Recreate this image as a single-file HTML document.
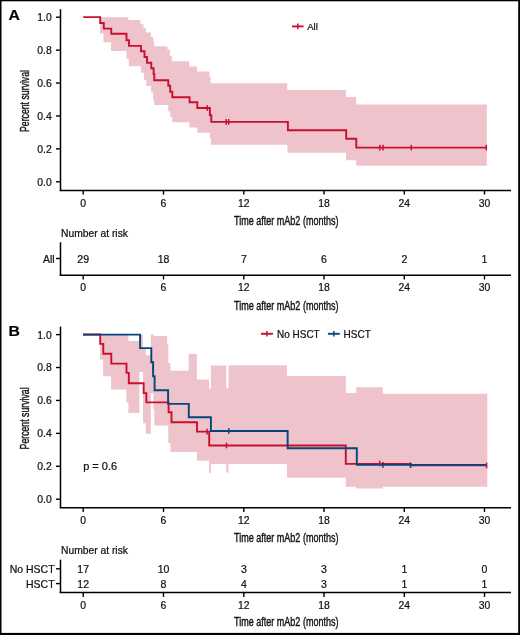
<!DOCTYPE html>
<html><head><meta charset="utf-8"><style>
html,body{margin:0;padding:0;background:#fff;}
body{width:520px;height:635px;overflow:hidden;}
svg{display:block;will-change:transform;}
text{stroke:#111;stroke-width:0.22px;}
text.t{stroke-width:0.4px;}
</style></head><body>
<svg width="520" height="635" viewBox="0 0 520 635" font-family='"Liberation Sans", sans-serif' fill="#111">
<rect x="0" y="0" width="520" height="635" fill="#fff"/>
<!-- Panel A -->
<text x="8.5" y="20.2" font-size="15" font-weight="bold" fill="#000" textLength="11.4" lengthAdjust="spacingAndGlyphs">A</text>
<path d="M100,17.2 L128.4,17.2 L128.4,20.1 L140.4,20.1 L140.4,24.2 L143.5,24.2 L143.5,28.3 L146,28.3 L146,32.6 L150.9,32.6 L150.9,37.1 L153.2,37.1 L153.2,41.6 L154,41.6 L154,46.2 L167.5,46.2 L167.5,49.5 L169.8,49.5 L169.8,56 L171.8,56 L171.8,61.3 L189,61.3 L189,66.4 L197,66.4 L197,71.6 L209.5,71.6 L209.5,77.1 L210.6,77.1 L210.6,83.3 L287.2,83.3 L287.2,89.9 L345.9,89.9 L345.9,97.1 L356.2,97.1 L356.2,104.6 L486.8,104.6 L486.8,165.8 L356.3,165.8 L356.3,160.2 L346,160.2 L346,152.8 L287.4,152.8 L287.4,144.75 L211,144.75 L211,138.5 L210,138.5 L210,132.7 L197.4,132.7 L197.4,127.5 L189.4,127.5 L189.4,122.3 L172.3,122.3 L172.3,117 L170.2,117 L170.2,111.25 L168.2,111.25 L168.2,105.1 L154.2,105.1 L154.2,99.7 L153.2,99.7 L153.2,92.6 L151.1,92.6 L151.1,86.1 L146.3,86.1 L146.3,79.8 L144,79.8 L144,72.7 L140.9,72.7 L140.9,66.3 L128.8,66.3 L128.8,59.1 L126.5,59.1 L126.5,50.9 L111,50.9 L111,42.2 L103.5,42.2 L103.5,33.6 L100,33.6 Z" fill="#eec3cb"/>
<path d="M83.2,17.1 H100.2 V23 H103.8 V28.6 H111.25 V33.7 H126.5 V40.2 H129 V45.9 H141 V51.2 H144.5 V57 H147 V62.7 H151.3 V68.2 H153.6 V74 H154.3 V80.2 H168.3 V85.7 H170.2 V91.7 H172.3 V97.3 H189.6 V102.2 H197.3 V108 H209.9 V115.2 H211.3 V121.9 H287.9 V130.2 H346.2 V138.8 H356.3 V147.6 H486.5" fill="none" stroke="#c8102e" stroke-width="1.9"/>
<line x1="207.3" y1="105.2" x2="207.3" y2="110.8" stroke="#c8102e" stroke-width="1.5"/><line x1="226.25" y1="119.10000000000001" x2="226.25" y2="124.7" stroke="#c8102e" stroke-width="1.5"/><line x1="228.65" y1="119.10000000000001" x2="228.65" y2="124.7" stroke="#c8102e" stroke-width="1.5"/><line x1="379.9" y1="144.79999999999998" x2="379.9" y2="150.4" stroke="#c8102e" stroke-width="1.5"/><line x1="383" y1="144.79999999999998" x2="383" y2="150.4" stroke="#c8102e" stroke-width="1.5"/><line x1="411.3" y1="144.79999999999998" x2="411.3" y2="150.4" stroke="#c8102e" stroke-width="1.5"/><line x1="486.3" y1="144.79999999999998" x2="486.3" y2="150.4" stroke="#c8102e" stroke-width="1.5"/>
<line x1="60.5" y1="9.2" x2="60.5" y2="190.6" stroke="#000" stroke-width="1.5"/>
<line x1="59.75" y1="190.4" x2="511" y2="190.4" stroke="#000" stroke-width="1.5"/>
<line x1="56" y1="17.2" x2="60" y2="17.2" stroke="#000" stroke-width="1.4"/>
<text x="51.8" y="21.099999999999998" text-anchor="end" font-size="10.4">1.0</text>
<line x1="56" y1="50.120000000000005" x2="60" y2="50.120000000000005" stroke="#000" stroke-width="1.4"/>
<text x="51.8" y="54.02" text-anchor="end" font-size="10.4">0.8</text>
<line x1="56" y1="83.04" x2="60" y2="83.04" stroke="#000" stroke-width="1.4"/>
<text x="51.8" y="86.94000000000001" text-anchor="end" font-size="10.4">0.6</text>
<line x1="56" y1="115.96000000000001" x2="60" y2="115.96000000000001" stroke="#000" stroke-width="1.4"/>
<text x="51.8" y="119.86000000000001" text-anchor="end" font-size="10.4">0.4</text>
<line x1="56" y1="148.88" x2="60" y2="148.88" stroke="#000" stroke-width="1.4"/>
<text x="51.8" y="152.78" text-anchor="end" font-size="10.4">0.2</text>
<line x1="56" y1="181.8" x2="60" y2="181.8" stroke="#000" stroke-width="1.4"/>
<text x="51.8" y="185.70000000000002" text-anchor="end" font-size="10.4">0.0</text>
<line x1="83.2" y1="190.7" x2="83.2" y2="194.6" stroke="#000" stroke-width="1.4"/>
<text x="83.2" y="207.0" text-anchor="middle" font-size="10.4">0</text>
<line x1="163.5" y1="190.7" x2="163.5" y2="194.6" stroke="#000" stroke-width="1.4"/>
<text x="163.5" y="207.0" text-anchor="middle" font-size="10.4">6</text>
<line x1="243.8" y1="190.7" x2="243.8" y2="194.6" stroke="#000" stroke-width="1.4"/>
<text x="243.8" y="207.0" text-anchor="middle" font-size="10.4">12</text>
<line x1="324.0" y1="190.7" x2="324.0" y2="194.6" stroke="#000" stroke-width="1.4"/>
<text x="324.0" y="207.0" text-anchor="middle" font-size="10.4">18</text>
<line x1="404.3" y1="190.7" x2="404.3" y2="194.6" stroke="#000" stroke-width="1.4"/>
<text x="404.3" y="207.0" text-anchor="middle" font-size="10.4">24</text>
<line x1="484.5" y1="190.7" x2="484.5" y2="194.6" stroke="#000" stroke-width="1.4"/>
<text x="484.5" y="207.0" text-anchor="middle" font-size="10.4">30</text>
<text x="234" y="224.9" font-size="12.8" textLength="104.5" lengthAdjust="spacingAndGlyphs" class="t">Time after mAb2 (months)</text>
<text transform="translate(28.7,132.0) rotate(-90)" x="0" y="0" font-size="12.8" textLength="62" class="t" lengthAdjust="spacingAndGlyphs">Percent survival</text>
<line x1="292" y1="26.4" x2="303.6" y2="26.4" stroke="#c8102e" stroke-width="1.9"/>
<line x1="297.8" y1="23.6" x2="297.8" y2="29.2" stroke="#c8102e" stroke-width="1.5"/>
<text x="307.2" y="29.9" font-size="9.6">All</text>
<text x="61" y="236.9" font-size="10.3">Number at risk</text>
<line x1="60.5" y1="242.3" x2="60.5" y2="275.6" stroke="#000" stroke-width="1.5"/>
<line x1="59.75" y1="275.2" x2="511" y2="275.2" stroke="#000" stroke-width="1.5"/>
<line x1="56" y1="258.5" x2="60" y2="258.5" stroke="#000" stroke-width="1.4"/>
<text x="54.6" y="263.0" text-anchor="end" font-size="10.5">All</text>
<text x="83.2" y="263.0" text-anchor="middle" font-size="10.5">29</text>
<text x="163.5" y="263.0" text-anchor="middle" font-size="10.5">18</text>
<text x="243.8" y="263.0" text-anchor="middle" font-size="10.5">7</text>
<text x="324.0" y="263.0" text-anchor="middle" font-size="10.5">6</text>
<text x="404.3" y="263.0" text-anchor="middle" font-size="10.5">2</text>
<text x="484.5" y="263.0" text-anchor="middle" font-size="10.5">1</text>
<line x1="83.2" y1="275.6" x2="83.2" y2="279.5" stroke="#000" stroke-width="1.4"/>
<text x="83.2" y="291.4" text-anchor="middle" font-size="10.4">0</text>
<line x1="163.5" y1="275.6" x2="163.5" y2="279.5" stroke="#000" stroke-width="1.4"/>
<text x="163.5" y="291.4" text-anchor="middle" font-size="10.4">6</text>
<line x1="243.8" y1="275.6" x2="243.8" y2="279.5" stroke="#000" stroke-width="1.4"/>
<text x="243.8" y="291.4" text-anchor="middle" font-size="10.4">12</text>
<line x1="324.0" y1="275.6" x2="324.0" y2="279.5" stroke="#000" stroke-width="1.4"/>
<text x="324.0" y="291.4" text-anchor="middle" font-size="10.4">18</text>
<line x1="404.3" y1="275.6" x2="404.3" y2="279.5" stroke="#000" stroke-width="1.4"/>
<text x="404.3" y="291.4" text-anchor="middle" font-size="10.4">24</text>
<line x1="484.5" y1="275.6" x2="484.5" y2="279.5" stroke="#000" stroke-width="1.4"/>
<text x="484.5" y="291.4" text-anchor="middle" font-size="10.4">30</text>
<text x="234" y="309.9" font-size="12.8" textLength="104.5" lengthAdjust="spacingAndGlyphs" class="t">Time after mAb2 (months)</text>
<!-- Panel B -->
<text x="8.6" y="335.9" font-size="15" font-weight="bold" fill="#000" textLength="11.4" lengthAdjust="spacingAndGlyphs">B</text>
<g fill="#eec3cb">
<path d="M100,334.4H103.1V359.6H100ZM103.1,334.4H111.1V376.2H103.1ZM111.1,334.4H126.3V389.6H111.1ZM126.3,334.4H128.4V402.6H126.3ZM128.4,341.1H139.4V413.0H128.4ZM139.4,335.0H143.0V371.9H139.4ZM143.0,348.0H145.8V423.3H143.0ZM145.8,355.3H150.8V433.7H145.8ZM150.8,334.2H153.3V393.2H150.8ZM153.3,335.6H154.3V409.4H153.3ZM154.3,335.9H167.2V425.6H154.3ZM167.2,344.2H168.3V425.6H167.2ZM168.3,363.1H170.5V442.9H168.3ZM170.5,370.8H188.7V451.9H170.5ZM188.7,354.0H196.9V451.9H188.7ZM196.9,379.5H209.1V460.7H196.9ZM209.1,388.75H210.9V472.9H209.1ZM210.9,365.4H226.25V464.0H210.9ZM226.25,388.3H228.5V472.5H226.25ZM228.5,365.3H286.9V463.9H228.5ZM286.9,375.9H345.8V477.7H286.9ZM345.8,393.0H356.2V486.7H345.8ZM356.2,387.2H382.8V488.6H356.2ZM382.8,393.7H487.3V486.8H382.8Z"/>
</g>
<path d="M83,334.45 H100.2 V343.9 H103.3 V353.7 H111.3 V363.6 H126.5 V372.9 H128.8 V383.2 H143.65 V393.1 H146.35 V402.4 H168.6 V412.2 H171.5 V422.3 H197 V431.6 H209.2 V445.5 H345.8 V463.9 H410.5 V465.3 H486.6" fill="none" stroke="#c8102e" stroke-width="1.9"/>
<path d="M83,334.6 H140.1 V348.1 H151.3 V362.2 H153.1 V376.2 H154.6 V390.2 H168.1 V403.9 H188.8 V417.2 H210.9 V431 H287.65 V448.2 H356.8 V464.9 H486.7" fill="none" stroke="#05457f" stroke-width="1.9"/>
<line x1="207.1" y1="428.8" x2="207.1" y2="434.40000000000003" stroke="#c8102e" stroke-width="1.5"/><line x1="226.5" y1="442.7" x2="226.5" y2="448.3" stroke="#c8102e" stroke-width="1.5"/><line x1="379.7" y1="460.7" x2="379.7" y2="466.3" stroke="#c8102e" stroke-width="1.5"/><line x1="486.6" y1="462.7" x2="486.6" y2="468.3" stroke="#c8102e" stroke-width="1.5"/>
<line x1="228.8" y1="428.2" x2="228.8" y2="433.8" stroke="#05457f" stroke-width="1.5"/><line x1="382.9" y1="462.09999999999997" x2="382.9" y2="467.7" stroke="#05457f" stroke-width="1.5"/><line x1="410.6" y1="462.4" x2="410.6" y2="468.0" stroke="#05457f" stroke-width="1.5"/>
<line x1="60.5" y1="326.59999999999997" x2="60.5" y2="508.0" stroke="#000" stroke-width="1.5"/>
<line x1="59.75" y1="507.79999999999995" x2="511" y2="507.79999999999995" stroke="#000" stroke-width="1.5"/>
<line x1="56" y1="334.59999999999997" x2="60" y2="334.59999999999997" stroke="#000" stroke-width="1.4"/>
<text x="51.8" y="338.49999999999994" text-anchor="end" font-size="10.4">1.0</text>
<line x1="56" y1="367.52" x2="60" y2="367.52" stroke="#000" stroke-width="1.4"/>
<text x="51.8" y="371.41999999999996" text-anchor="end" font-size="10.4">0.8</text>
<line x1="56" y1="400.44" x2="60" y2="400.44" stroke="#000" stroke-width="1.4"/>
<text x="51.8" y="404.34" text-anchor="end" font-size="10.4">0.6</text>
<line x1="56" y1="433.36" x2="60" y2="433.36" stroke="#000" stroke-width="1.4"/>
<text x="51.8" y="437.26" text-anchor="end" font-size="10.4">0.4</text>
<line x1="56" y1="466.28" x2="60" y2="466.28" stroke="#000" stroke-width="1.4"/>
<text x="51.8" y="470.17999999999995" text-anchor="end" font-size="10.4">0.2</text>
<line x1="56" y1="499.2" x2="60" y2="499.2" stroke="#000" stroke-width="1.4"/>
<text x="51.8" y="503.09999999999997" text-anchor="end" font-size="10.4">0.0</text>
<line x1="83.2" y1="508.09999999999997" x2="83.2" y2="512.0" stroke="#000" stroke-width="1.4"/>
<text x="83.2" y="524.4" text-anchor="middle" font-size="10.4">0</text>
<line x1="163.5" y1="508.09999999999997" x2="163.5" y2="512.0" stroke="#000" stroke-width="1.4"/>
<text x="163.5" y="524.4" text-anchor="middle" font-size="10.4">6</text>
<line x1="243.8" y1="508.09999999999997" x2="243.8" y2="512.0" stroke="#000" stroke-width="1.4"/>
<text x="243.8" y="524.4" text-anchor="middle" font-size="10.4">12</text>
<line x1="324.0" y1="508.09999999999997" x2="324.0" y2="512.0" stroke="#000" stroke-width="1.4"/>
<text x="324.0" y="524.4" text-anchor="middle" font-size="10.4">18</text>
<line x1="404.3" y1="508.09999999999997" x2="404.3" y2="512.0" stroke="#000" stroke-width="1.4"/>
<text x="404.3" y="524.4" text-anchor="middle" font-size="10.4">24</text>
<line x1="484.5" y1="508.09999999999997" x2="484.5" y2="512.0" stroke="#000" stroke-width="1.4"/>
<text x="484.5" y="524.4" text-anchor="middle" font-size="10.4">30</text>
<text x="234" y="542.3" font-size="12.8" textLength="104.5" lengthAdjust="spacingAndGlyphs" class="t">Time after mAb2 (months)</text>
<text transform="translate(28.7,449.4) rotate(-90)" x="0" y="0" font-size="12.8" textLength="62" class="t" lengthAdjust="spacingAndGlyphs">Percent survival</text>
<line x1="261" y1="333.8" x2="272.9" y2="333.8" stroke="#c8102e" stroke-width="1.9"/>
<line x1="266.9" y1="331.1" x2="266.9" y2="336.6" stroke="#c8102e" stroke-width="1.5"/>
<text x="277.1" y="337.6" font-size="10.4" textLength="42.6" lengthAdjust="spacingAndGlyphs">No HSCT</text>
<line x1="327.9" y1="333.8" x2="339.8" y2="333.8" stroke="#05457f" stroke-width="1.9"/>
<line x1="333.9" y1="331.1" x2="333.9" y2="336.6" stroke="#05457f" stroke-width="1.5"/>
<text x="343.6" y="337.6" font-size="10.4" textLength="27.2" lengthAdjust="spacingAndGlyphs">HSCT</text>
<text x="83.2" y="470.2" font-size="11">p = 0.6</text>
<text x="61" y="554.3" font-size="10.3">Number at risk</text>
<line x1="60.5" y1="559.7" x2="60.5" y2="593.0" stroke="#000" stroke-width="1.5"/>
<line x1="59.75" y1="592.5999999999999" x2="511" y2="592.5999999999999" stroke="#000" stroke-width="1.5"/>
<line x1="56" y1="568.8" x2="60" y2="568.8" stroke="#000" stroke-width="1.4"/>
<text x="54.6" y="573.3" text-anchor="end" font-size="10.5">No HSCT</text>
<text x="83.2" y="573.3" text-anchor="middle" font-size="10.5">17</text>
<text x="163.5" y="573.3" text-anchor="middle" font-size="10.5">10</text>
<text x="243.8" y="573.3" text-anchor="middle" font-size="10.5">3</text>
<text x="324.0" y="573.3" text-anchor="middle" font-size="10.5">3</text>
<text x="404.3" y="573.3" text-anchor="middle" font-size="10.5">1</text>
<text x="484.5" y="573.3" text-anchor="middle" font-size="10.5">0</text>
<line x1="56" y1="583.6" x2="60" y2="583.6" stroke="#000" stroke-width="1.4"/>
<text x="54.6" y="588.1" text-anchor="end" font-size="10.5">HSCT</text>
<text x="83.2" y="588.1" text-anchor="middle" font-size="10.5">12</text>
<text x="163.5" y="588.1" text-anchor="middle" font-size="10.5">8</text>
<text x="243.8" y="588.1" text-anchor="middle" font-size="10.5">4</text>
<text x="324.0" y="588.1" text-anchor="middle" font-size="10.5">3</text>
<text x="404.3" y="588.1" text-anchor="middle" font-size="10.5">1</text>
<text x="484.5" y="588.1" text-anchor="middle" font-size="10.5">1</text>
<line x1="83.2" y1="593.0" x2="83.2" y2="596.9" stroke="#000" stroke-width="1.4"/>
<text x="83.2" y="608.8" text-anchor="middle" font-size="10.4">0</text>
<line x1="163.5" y1="593.0" x2="163.5" y2="596.9" stroke="#000" stroke-width="1.4"/>
<text x="163.5" y="608.8" text-anchor="middle" font-size="10.4">6</text>
<line x1="243.8" y1="593.0" x2="243.8" y2="596.9" stroke="#000" stroke-width="1.4"/>
<text x="243.8" y="608.8" text-anchor="middle" font-size="10.4">12</text>
<line x1="324.0" y1="593.0" x2="324.0" y2="596.9" stroke="#000" stroke-width="1.4"/>
<text x="324.0" y="608.8" text-anchor="middle" font-size="10.4">18</text>
<line x1="404.3" y1="593.0" x2="404.3" y2="596.9" stroke="#000" stroke-width="1.4"/>
<text x="404.3" y="608.8" text-anchor="middle" font-size="10.4">24</text>
<line x1="484.5" y1="593.0" x2="484.5" y2="596.9" stroke="#000" stroke-width="1.4"/>
<text x="484.5" y="608.8" text-anchor="middle" font-size="10.4">30</text>
<text x="234" y="626.3" font-size="12.8" textLength="104.5" lengthAdjust="spacingAndGlyphs" class="t">Time after mAb2 (months)</text>
<!-- frame -->
<rect x="0" y="0" width="520" height="1.3" fill="#000"/>
<rect x="0" y="0" width="1.5" height="635" fill="#000"/>
<rect x="518.2" y="0" width="1.8" height="635" fill="#000"/>
<rect x="0" y="632.9" width="520" height="2.1" fill="#000"/>
</svg>
</body></html>
